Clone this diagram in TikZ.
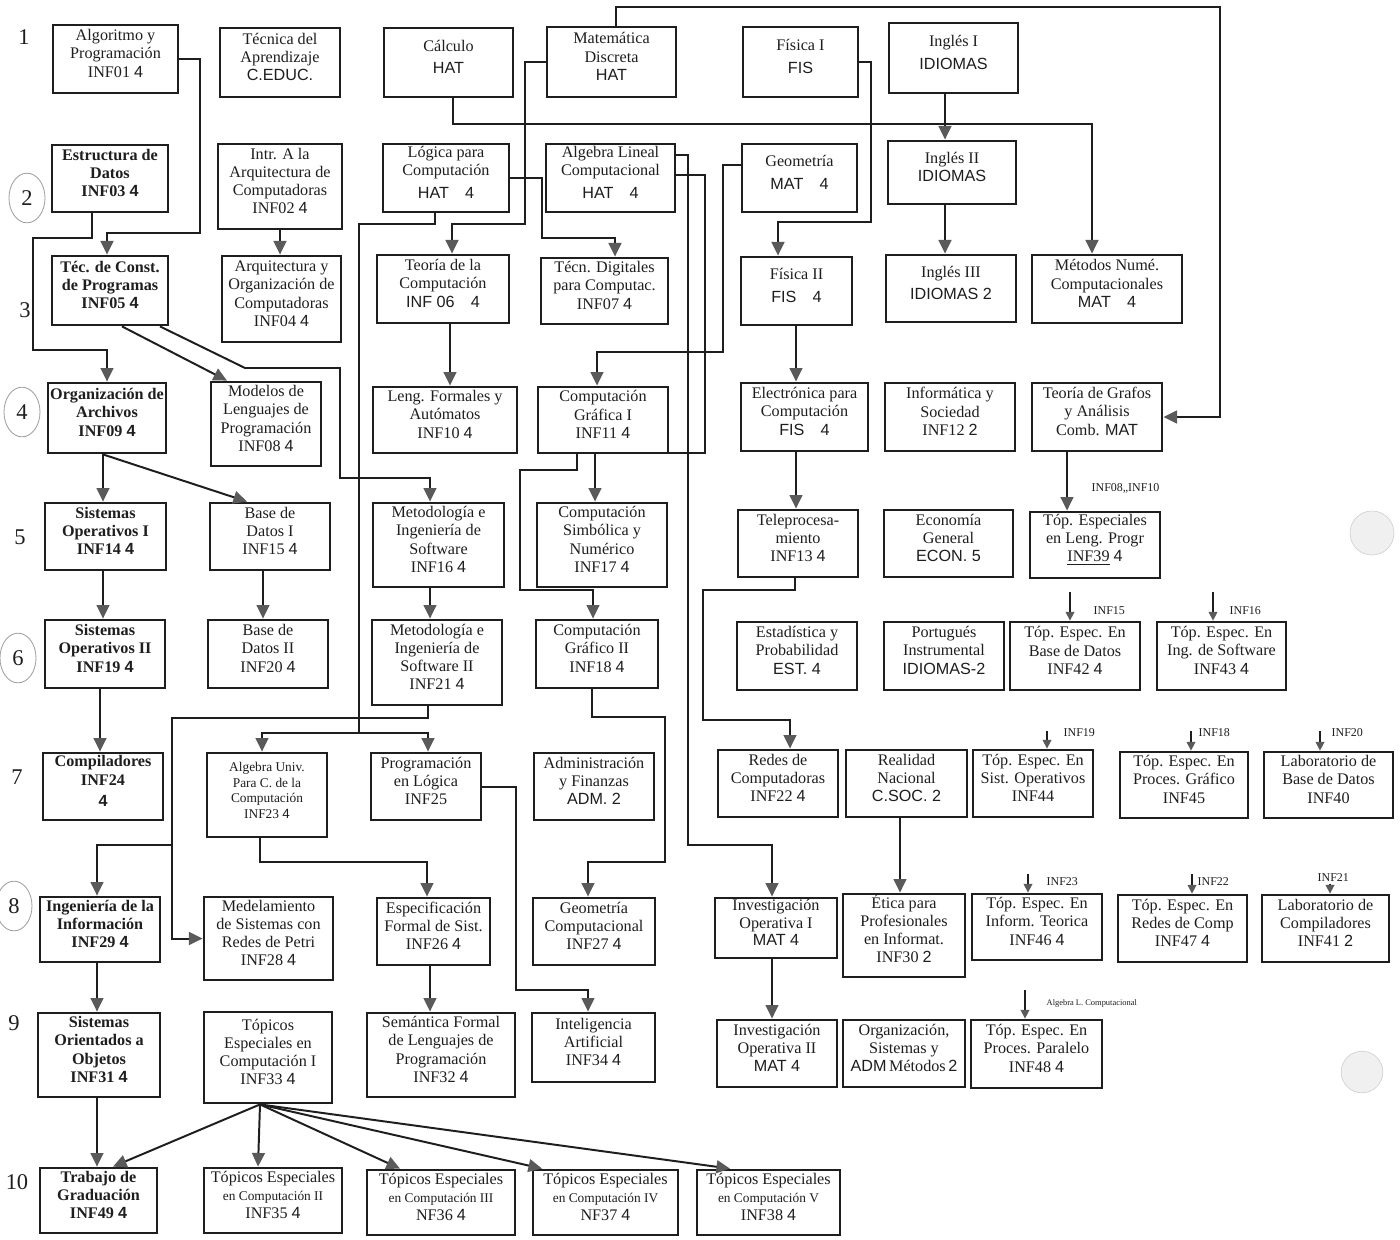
\documentclass[tikz,border=0pt]{standalone}
\usepackage{fontspec}
\setmainfont{Liberation Serif}
\newfontfamily\handfont{Liberation Sans}
\usetikzlibrary{arrows.meta,fit}
\definecolor{ink}{HTML}{1E1E1E}
\definecolor{tipgray}{HTML}{5A5A5A}
\definecolor{pencil}{HTML}{A0A0A0}
\newcommand{\boxfont}{\fontsize{11.5}{13}\selectfont}
\newcommand{\leadfont}{\fontsize{11.5}{13}\selectfont\bfseries}
\newcommand{\smfont}{\fontsize{9.5}{11}\selectfont}
\newcommand{\hw}[1]{{\handfont #1}}

\begin{document}
\begin{tikzpicture}[
    x=0.025cm, y=-0.025cm,
    course/.style={draw=ink, line width=2pt, inner sep=0pt, align=center,
                   font=\boxfont, text=ink},
    lead/.style={course, font=\leadfont},
    link/.style={draw=ink, line width=1.4pt},
    arr/.style={link, -{Triangle[length=3.4mm,width=3.2mm,color=tipgray]}},
    tick/.style={draw=ink, line width=1pt, -{Triangle[length=2.2mm,width=2.2mm,color=tipgray]}},
    req/.style={font=\fontsize{8.5}{9}\selectfont, text=ink, inner sep=1pt},
    rownum/.style={font=\fontsize{16}{18}\selectfont, text=ink}
]
\useasboundingbox (0,0) rectangle (1400,1239);
\fill[white] (0,0) rectangle (1400,1239);

% hole punches of the scanned sheet
\filldraw[fill=black!6, draw=black!20] (1372,533) circle [radius=0.55cm];
\filldraw[fill=black!6, draw=black!20] (1362,1072) circle [radius=0.52cm];

% semester numbers
\foreach \n/\x/\y in {1/24/37, 2/27/198, 3/25/310, 4/22/412, 5/20/537,
                      6/18/658, 7/17/777, 8/14/906, 9/14/1023, 10/17/1182}
    \node[rownum] (r\n) at (\x,\y) {\n};
\foreach \n in {2,4,6,8}
    \draw[pencil, line width=0.6pt] (r\n) ellipse [x radius=0.45cm, y radius=0.62cm];

% courses
\foreach \nm/\xa/\ya/\xb/\yb/\txt in {
    alg/53/25/178/93/{Algoritmo y\\Programación\\INF01 \hw{4}},
    tecap/220/28/340/97/{Técnica del\\Aprendizaje\\\hw{C.EDUC.}},
    calc/384/28/513/97/{Cálculo\\[3pt]\hw{HAT}},
    mdisc/547/27/676/97/{Matemática\\Discreta\\\hw{HAT}},
    fis1/743/27/858/97/{Física I\\[3pt]\hw{FIS}},
    ing1/889/23/1018/93/{Inglés I\\[3pt]\hw{IDIOMAS}},
    intr/218/144/342/229/{Intr. A la\\Arquitectura de\\Computadoras\\INF02 \hw{4}},
    logica/383/144/509/212/{Lógica para\\Computación\\[3pt]\hw{HAT\quad 4}},
    alglin/546/144/675/212/{Algebra Lineal\\Computacional\\[3pt]\hw{HAT\quad 4}},
    geom/742/144/857/212/{Geometría\\[4pt]\hw{MAT\quad 4}},
    ing2/888/141/1016/204/{Inglés II\\\hw{IDIOMAS}},
    arqorg/222/256/341/342/{Arquitectura y\\Organización de\\Computadoras\\INF04 \hw{4}},
    teoria/377/255/509/323/{Teoría de la\\Computación\\\hw{INF 06\quad 4}},
    tecdig/541/258/668/324/{Técn. Digitales\\para Computac.\\INF07 \hw{4}},
    fis2/741/257/852/325/{Física II\\[3pt]\hw{FIS\quad 4}},
    ing3/886/255/1016/322/{Inglés III\\[3pt]\hw{IDIOMAS 2}},
    metnum/1032/255/1182/323/{Métodos Numé.\\Computacionales\\\hw{MAT\quad 4}},
    modelos/211/382/321/466/{Modelos de\\Lenguajes de\\Programación\\INF08 \hw{4}},
    lengf/373/387/517/453/{Leng. Formales y\\Autómatos\\INF10 \hw{4}},
    cg1/538/387/668/453/{Computación\\Gráfica I\\INF11 \hw{4}},
    elec/741/383/868/451/{Electrónica para\\Computación\\\hw{FIS\quad 4}},
    infsoc/885/383/1015/451/{Informática y\\Sociedad\\INF12 \hw{2}},
    grafos/1032/383/1162/451/{Teoría de Grafos\\y Análisis\\Comb. \hw{MAT}},
    bd1/210/503/330/570/{Base de\\Datos I\\INF15 \hw{4}},
    metod1/373/503/504/587/{Metodología e\\Ingeniería de\\Software\\INF16 \hw{4}},
    compsim/537/503/667/587/{Computación\\Simbólica y\\Numérico\\INF17 \hw{4}},
    telep/738/510/858/577/{Teleprocesa-\\miento\\INF13 \hw{4}},
    econ/884/510/1013/577/{Economía\\General\\\hw{ECON. 5}},
    tle/1030/512/1160/578/{Tóp. Especiales\\en Leng. Progr\\\underline{INF39} \hw{4}},
    bd2/208/620/328/688/{Base de\\Datos II\\INF20 \hw{4}},
    metod2/372/620/502/705/{Metodología e\\Ingeniería de\\Software II\\INF21 \hw{4}},
    cg2/536/620/658/688/{Computación\\Gráfico II\\INF18 \hw{4}},
    estad/737/622/857/690/{Estadística y\\Probabilidad\\\hw{EST. 4}},
    portu/884/622/1004/690/{Portugués\\Instrumental\\\hw{IDIOMAS-2}},
    teb/1010/622/1140/690/{Tóp. Espec. En\\Base de Datos\\INF42 \hw{4}},
    tis/1157/622/1286/690/{Tóp. Espec. En\\Ing. de Software\\INF43 \hw{4}},
    proglog/371/753/481/820/{Programación\\en Lógica\\INF25},
    admin/534/753/654/820/{Administración\\y Finanzas\\\hw{ADM. 2}},
    redes/718/750/838/817/{Redes de\\Computadoras\\INF22 \hw{4}},
    realn/846/750/967/817/{Realidad\\Nacional\\\hw{C.SOC. 2}},
    tso/973/750/1093/817/{Tóp. Espec. En\\Sist. Operativos\\INF44},
    tpg/1120/752/1248/818/{Tóp. Espec. En\\Proces. Gráfico\\INF45},
    labbd/1264/752/1393/818/{Laboratorio de\\Base de Datos\\INF40},
    medel/204/897/333/980/{Medelamiento\\de Sistemas con\\Redes de Petri\\INF28 \hw{4}},
    espec/377/898/490/965/{Especificación\\Formal de Sist.\\INF26 \hw{4}},
    geocomp/533/898/655/965/{Geometría\\Computacional\\INF27 \hw{4}},
    io1/715/898/837/958/{Investigación\\Operativa I\\[-1pt]\hw{MAT 4}},
    etica/843/894/965/977/{Ética para\\Profesionales\\en Informat.\\INF30 \hw{2}},
    tit/972/894/1102/960/{Tóp. Espec. En\\Inform. Teorica\\INF46 \hw{4}},
    trc/1118/895/1247/962/{Tóp. Espec. En\\Redes de Comp\\INF47 \hw{4}},
    labcomp/1262/895/1389/962/{Laboratorio de\\Compiladores\\INF41 \hw{2}},
    top33/204/1012/332/1103/{Tópicos\\Especiales en\\Computación I\\INF33 \hw{4}},
    semant/367/1013/515/1097/{Semántica Formal\\de Lenguajes de\\Programación\\INF32 \hw{4}},
    ia/532/1013/655/1082/{Inteligencia\\Artificial\\INF34 \hw{4}},
    io2/717/1020/837/1087/{Investigación\\Operativa II\\\hw{MAT 4}},
    osm/843/1020/965/1087/{Organización,\\Sistemas y\\\hw{ADM}\,Métodos\,\hw{2}},
    tpp/971/1020/1102/1088/{Tóp. Espec. En\\Proces. Paralelo\\INF48 \hw{4}},
    inf35/204/1168/342/1233/{Tópicos Especiales\\{\smfont en Computación II}\\INF35 \hw{4}},
    inf36/367/1170/515/1235/{Tópicos Especiales\\{\smfont en Computación III}\\NF36 \hw{4}},
    inf37/533/1170/678/1235/{Tópicos Especiales\\{\smfont en Computación IV}\\NF37 \hw{4}},
    inf38/697/1170/840/1235/{Tópicos Especiales\\{\smfont en Computación V}\\INF38 \hw{4}}
}{
    \node[course, fit={(\xa,\ya) (\xb,\yb)}] (\nm) {\txt};
}

% first column, printed darker
\foreach \nm/\xa/\ya/\xb/\yb/\txt in {
    estruc/52/145/168/212/{Estructura de\\Datos\\INF03 \hw{4}},
    teccon/52/256/168/325/{Téc. de Const.\\de Programas\\INF05 \hw{4}},
    orgarch/48/383/166/453/{Organización de\\Archivos\\INF09 \hw{4}},
    so1/45/503/166/570/{Sistemas\\Operativos I\\INF14 \hw{4}},
    so2/45/620/165/688/{Sistemas\\Operativos II\\INF19 \hw{4}},
    compil/43/753/163/820/{Compiladores\\INF24\\[2pt]\hw{4}},
    ingi/40/897/160/962/{Ingeniería de la\\Información\\INF29 \hw{4}},
    soo/38/1013/160/1097/{Sistemas\\Orientados a\\Objetos\\INF31 \hw{4}},
    trabajo/40/1168/157/1233/{Trabajo de\\Graduación\\INF49 \hw{4}}
}{
    \node[lead, fit={(\xa,\ya) (\xb,\yb)}] (\nm) {\txt};
}

\node[course, font=\smfont, fit={(207,753) (327,837)}] (algu)
    {Algebra Univ.\\Para C. de la\\Computación\\INF23 \hw{4}};

% prerequisites
\coordinate (jLog) at (359,733);
\coordinate (jMet) at (172,845);

\draw[arr] (alg.east) -| (200,233) -| (teccon.north -| 107,0);
\draw[arr] (estruc.south -| 92,0) -- (92,238) -- (33,238) -- (33,350) -| (orgarch.north);
\draw[arr] (intr.south) -- (intr.south |- arqorg.north);
\draw[arr] (teccon.south -| 122,0) -- (modelos.north -| 227,0);
\draw[arr] (teccon.south -| 160,0) -- (245,368) -- (340,368) -- (340,478) -| (metod1.north -| 430,0);
\draw[arr] (orgarch.south -| 103,0) -- (so1.north -| 103,0);
\draw[arr] (orgarch.south -| 103,0) -- (bd1.north -| 247,0);
\draw[arr] (so1.south -| 103,0) -- (so2.north -| 103,0);
\draw[arr] (bd1.south -| 263,0) -- (bd2.north -| 263,0);
\draw[arr] (so2.south -| 100,0) -- (compil.north -| 100,0);
\draw[arr] (metod1.south -| 430,0) -- (metod2.north -| 430,0);

\draw[arr] (calc.south -| 453,0) |- (1092,124) -- (metnum.north -| 1092,0);
\draw[arr] (mdisc.north -| 616,0) |- (1220,7) |- (grafos.east);
\draw[arr] (mdisc.west) -| (525,224) -| (teoria.north -| 452,0);
\draw[link] (logica.south -| 435,0) |- (359,224) -- (jLog);
\draw[arr] (jLog) -| (proglog.north -| 428,0);
\draw[arr] (jLog) -| (algu.north -| 262,0);
\draw[arr] (logica.east) -| (542,238) -| (tecdig.north -| 615,0);
\draw[arr] (alglin.east |- 0,155) -| (688,845) -| (io1.north -| 772,0);
\draw[arr] (alglin.east |- 0,175) -| (705,453) -| (compsim.north -| 595,0);
\draw[arr] (geom.west |- 0,165) -| (723,352) -| (cg1.north -| 597,0);
\draw[arr] (fis1.east) -| (871,222) -| (fis2.north -| 778,0);
\draw[arr] (ing1.south -| 945,0) -- (ing2.north -| 945,0);
\draw[arr] (ing2.south -| 945,0) -- (ing3.north -| 945,0);
\draw[arr] (fis2.south -| 796,0) -- (elec.north -| 796,0);
\draw[arr] (elec.south -| 796,0) -- (telep.north -| 796,0);
\draw[arr] (teoria.south -| 450,0) -- (lengf.north -| 450,0);
\draw[arr] (cg1.south -| 577,0) |- (520,470) |- (593,590) -- (cg2.north -| 593,0);
\draw[arr] (cg2.south -| 592,0) |- (665,717) |- (588,862) -- (geocomp.north -| 588,0);
\draw[arr] (metod2.south -| 428,0) |- (172,718) |- (medel.west);
\draw[arr] (jMet) -| (ingi.north -| 97,0);
\draw[arr] (algu.south -| 260,0) |- (427,862) -- (espec.north -| 427,0);
\draw[arr] (proglog.east) -| (516,990) -| (ia.north -| 588,0);
\draw[arr] (telep.south -| 795,0) |- (703,590) |- (790,720) -- (redes.north -| 790,0);
\draw[arr] (realn.south -| 900,0) -- (etica.north -| 900,0);
\draw[arr] (io1.south -| 772,0) -- (io2.north -| 772,0);
\draw[arr] (ingi.south -| 97,0) -- (soo.north -| 97,0);
\draw[arr] (soo.south -| 97,0) -- (trabajo.north -| 97,0);
\draw[arr] (espec.south -| 430,0) -- (semant.north -| 430,0);
\foreach \t/\x in {trabajo/113, inf35/258, inf36/400, inf37/542, inf38/730}
    \draw[arr] (top33.south -| 260,0) -- (\t.north -| \x,0);

% optional topics and their requirements
\draw[arr] (grafos.south -| 1067,0) -- (tle.north -| 1067,0);
\node[req, anchor=west] (qLeng) at (1090,488) {INF08,,INF10};
\foreach \t/\x/\y/\lx/\ly/\lab in {teb/1070/592/1092/611/INF15, tis/1213/592/1228/611/INF16,
                           tso/1047/731/1062/733/INF19, tpg/1191/731/1197/733/INF18,
                           labbd/1320/731/1330/733/INF20,
                           tit/1028/874/1045/882/INF23, trc/1192/874/1196/882/INF22,
                           labcomp/1330/884/1316/878/INF21}{
    \coordinate (q\t) at (\x,\y);
    \draw[tick] (q\t) -- (\t.north -| q\t);
    \node[req, anchor=west] at (\lx,\ly) {\lab};
}
\coordinate (qtpp) at (1025,990);
\draw[tick] (qtpp) -- (tpp.north -| qtpp);
\node[req, font=\fontsize{6}{7}\selectfont, anchor=west] at (1045,1003) {Algebra L. Computacional};

\end{tikzpicture}
\end{document}
